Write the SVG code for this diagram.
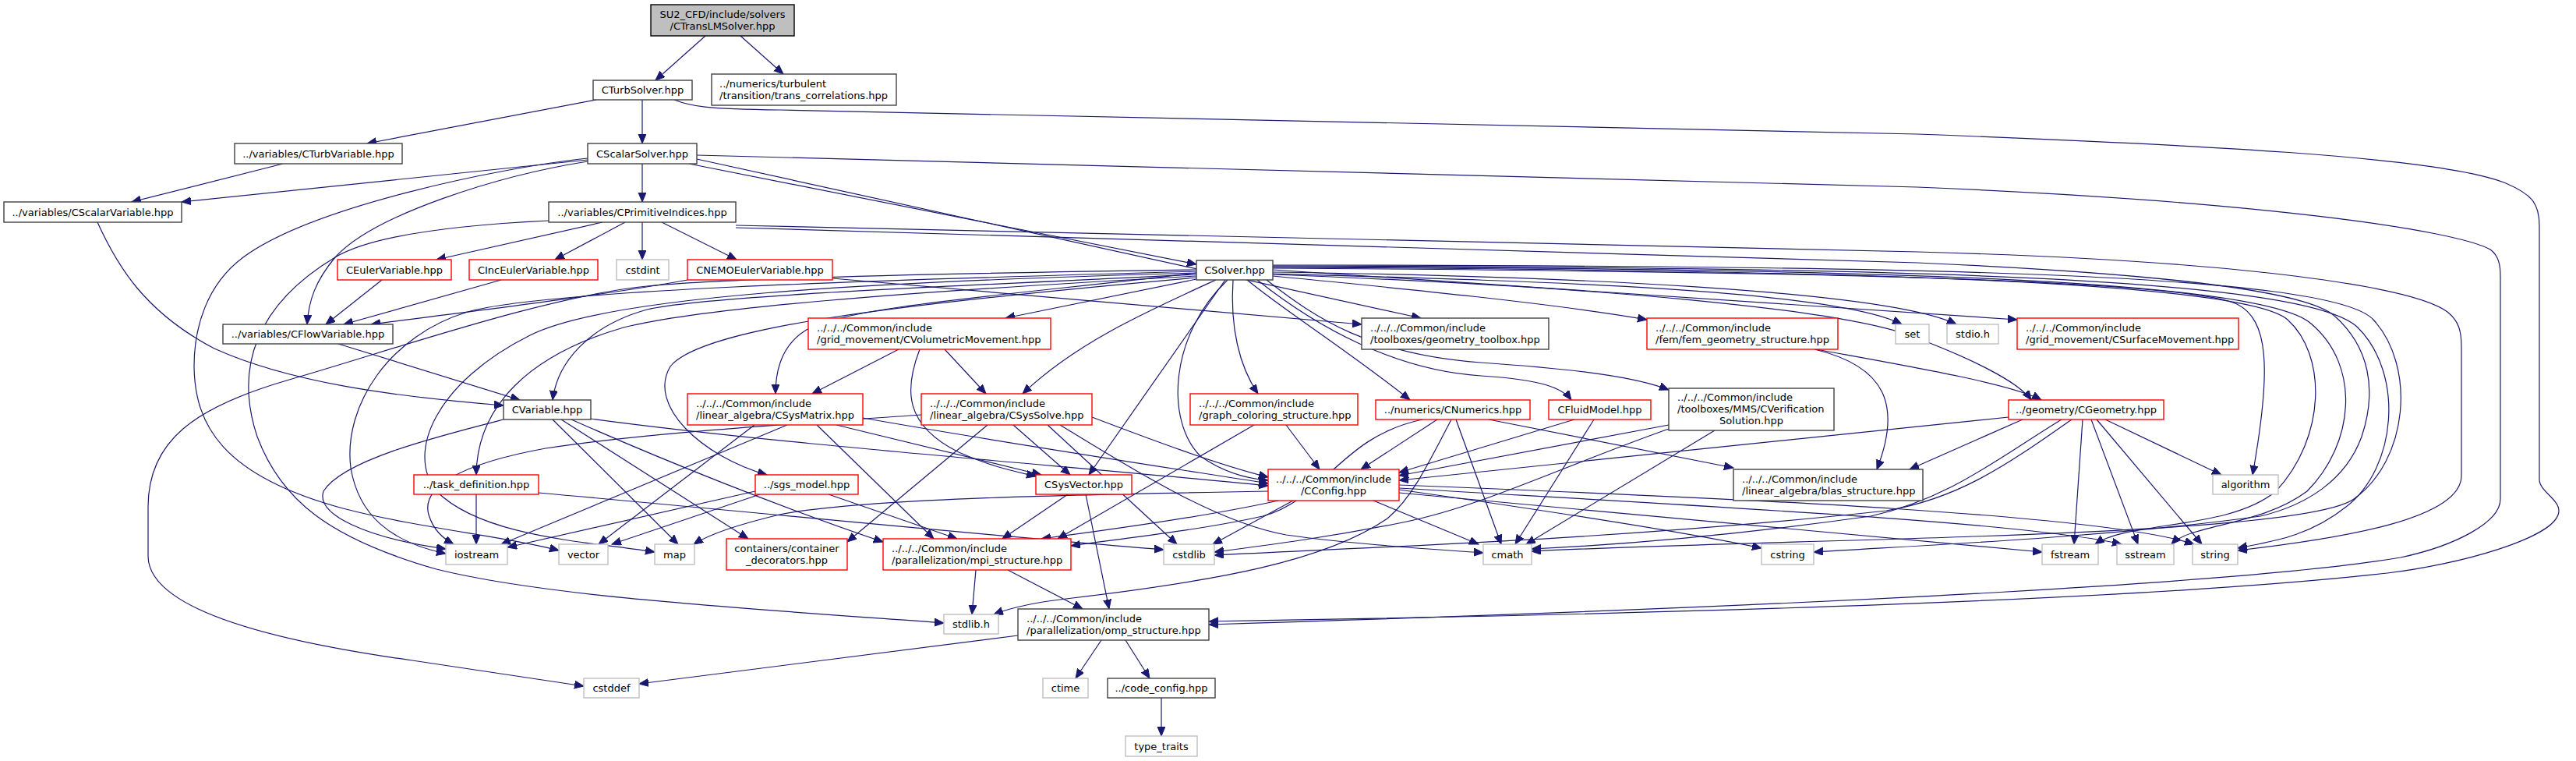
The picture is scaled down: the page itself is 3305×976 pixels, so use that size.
<svg xmlns="http://www.w3.org/2000/svg" width="3305" height="976" viewBox="0 0 3305 976">
<style>
.node rect{fill:#fff;stroke-width:1.4}
.blk{stroke:#404040}
.red{stroke:#ff0000}
.gry{stroke:#bfbfbf}
text{font-family:"DejaVu Sans",sans-serif;font-size:13px;fill:#000}
.c{text-anchor:middle}
#edges path{fill:none;stroke:#191970;stroke-width:1.2;marker-end:url(#ah)}
</style>
<defs>
<marker id="ah" markerUnits="userSpaceOnUse" markerWidth="13" markerHeight="11" refX="12" refY="5" orient="auto"><path d="M0,0 L12,5 L0,10 Z" fill="#191970" stroke="#191970" stroke-width="1"/></marker>
</defs>
<rect x="0" y="0" width="3305" height="976" fill="#fff"/>
<g id="edges">
<path d="M905,46 L841,103"/>
<path d="M950,46 L1005,95"/>
<path d="M765,128 L471,184"/>
<path d="M824,128 L824,184"/>
<path d="M865,128 C885,136 905,140 1000,141 L2460,172 C2800,185 3130,200 3215,235 C3250,250 3258,262 3258,290 L3258,615 C3258,630 3283,640 3283,655 C3283,690 3150,725 3063,735 C2800,765 2300,785 1551,797"/>
<path d="M363,210 L169,259"/>
<path d="M754,205 L233,259"/>
<path d="M824,210 L824,259"/>
<path d="M884,210 L1535,339"/>
<path d="M894,204 L1823,408"/>
<path d="M754,207 C640,225 480,275 430,330 C405,360 396,385 394,416"/>
<path d="M754,203 C640,215 400,265 312,330 C265,365 249,420 249,470 C250,545 285,610 440,652 C540,678 650,688 717,706"/>
<path d="M894,199 L2460,240 C2900,258 3150,295 3195,320 C3206,328 3208,340 3208,355 L3208,640 C3208,670 3150,700 3080,715 C2900,745 2400,775 1551,801"/>
<path d="M125,285 C150,340 185,400 275,447 C370,490 500,508 646,520"/>
<path d="M773,285 L560,333"/>
<path d="M802,285 L712,333"/>
<path d="M824,285 L824,333"/>
<path d="M849,285 L945,333"/>
<path d="M944,289 L2460,323 C2900,335 3100,370 3140,400 C3155,412 3158,425 3158,445 L3158,610 C3158,665 3010,690 2871,706"/>
<path d="M944,292 L2460,337 C2800,352 2960,375 2995,405 C3040,445 3050,500 3030,560 C3010,615 2960,648 2900,662 C2700,690 2450,700 2327,708"/>
<path d="M704,283 C600,288 480,300 430,330 C330,390 300,470 330,560 C360,640 420,690 560,730 C700,765 950,780 1211,799"/>
<path d="M490,359 L418,416"/>
<path d="M643,359 L441,416"/>
<path d="M882,359 C780,378 600,400 476,416"/>
<path d="M1068,357 L1747,416"/>
<path d="M434,441 L667,513"/>
<path d="M1535,358 L1290,408"/>
<path d="M1535,350 C1300,378 1100,392 1040,420 C1005,438 995,470 995,505"/>
<path d="M1560,359 C1470,400 1380,440 1312,505"/>
<path d="M1582,359 C1578,420 1590,470 1614,505"/>
<path d="M1600,359 C1650,400 1730,450 1809,513"/>
<path d="M1613,359 C1690,420 1790,475 1900,482 C1980,487 2005,498 2016,513"/>
<path d="M1625,359 C1690,410 1760,455 1900,465 C2030,474 2100,484 2141,500"/>
<path d="M1633,354 C1800,370 2000,390 2113,410"/>
<path d="M1633,351 C1950,360 2350,370 2440,416"/>
<path d="M1633,349 C2000,354 2420,372 2510,416"/>
<path d="M1633,346 L2588,410"/>
<path d="M1633,352 C2050,368 2350,395 2450,430 C2530,460 2590,490 2606,513"/>
<path d="M2330,448 C2450,470 2580,492 2619,513"/>
<path d="M1535,352 C1200,368 900,380 830,397 C755,418 715,465 709,513"/>
<path d="M1535,354 C1150,375 900,395 800,420 C680,455 612,520 611,609"/>
<path d="M1535,356 C1150,390 900,420 860,470 C830,520 900,585 984,609"/>
<path d="M1572,359 L1397,609"/>
<path d="M1575,359 C1500,430 1495,540 1540,585 C1570,606 1600,614 1627,616"/>
<path d="M1633,344 C2300,348 2800,358 2870,390 C2910,410 2915,470 2890,609"/>
<path d="M1633,343 C2400,346 2880,362 2935,410 C2985,455 2985,560 2920,630 C2860,680 2730,668 2688,698"/>
<path d="M1633,342 C2400,344 2900,358 2965,415 C3030,470 3020,570 2960,630 C2900,675 2810,672 2786,698"/>
<path d="M1633,341 C2450,342 2960,356 3025,420 C3085,480 3075,600 3010,650 C2960,690 2910,695 2871,703"/>
<path d="M1535,348 C1100,360 700,372 600,400 C500,430 440,520 450,600 C460,660 500,695 572,710"/>
<path d="M1535,350 C1100,362 780,380 680,430 C560,490 520,580 560,630 C620,690 760,695 840,708"/>
<path d="M1535,346 C1100,352 900,360 830,367 C700,380 500,450 371,487 C250,522 190,565 190,650 L190,713 C190,770 300,815 529,847 C620,860 700,872 749,880"/>
<path d="M1633,340 C2450,340 2990,350 3045,410 C3100,470 3090,590 3020,640 C2950,690 2300,690 1965,707"/>
<path d="M1153,448 L1042,505"/>
<path d="M1212,448 L1265,505"/>
<path d="M1180,448 C1160,500 1160,545 1230,580 C1270,598 1300,604 1329,611"/>
<path d="M968,545 L768,698"/>
<path d="M1073,545 L1336,609"/>
<path d="M1048,545 L1198,691"/>
<path d="M1107,536 C1300,570 1500,600 1627,620"/>
<path d="M1010,545 L643,698"/>
<path d="M1300,545 L1373,609"/>
<path d="M1182,532 C1000,545 830,555 700,575 C590,595 540,625 550,660 C556,680 568,690 582,698"/>
<path d="M1267,545 L1087,695"/>
<path d="M1344,545 L1510,698"/>
<path d="M1401,535 C1480,565 1560,595 1627,612"/>
<path d="M1360,545 C1450,600 1560,670 1650,686 C1750,700 1850,705 1903,709"/>
<path d="M1650,545 L1693,602"/>
<path d="M1609,545 L1357,691"/>
<path d="M1844,538 L1746,602"/>
<path d="M1862,538 C1830,600 1810,640 1780,665 C1700,720 1560,745 1376,767 C1330,772 1300,778 1275,788"/>
<path d="M1868,538 L1926,698"/>
<path d="M1910,538 L2224,600"/>
<path d="M1825,538 C1720,560 1700,640 1620,662 C1540,680 1430,692 1374,700"/>
<path d="M2020,538 L1795,606"/>
<path d="M2045,538 L1944,698"/>
<path d="M2141,545 L1795,610"/>
<path d="M2200,552 L1958,698"/>
<path d="M2141,550 C2000,600 1900,650 1800,670 C1700,690 1620,700 1558,708"/>
<path d="M2577,535 L1795,616"/>
<path d="M2595,538 L2450,602"/>
<path d="M2701,538 L2850,609"/>
<path d="M2672,538 L2661,698"/>
<path d="M2683,538 L2743,698"/>
<path d="M2690,538 L2825,698"/>
<path d="M2645,538 C2560,590 2500,640 2400,662 C2200,690 2050,700 1965,704"/>
<path d="M2658,538 C2570,600 2510,640 2420,655 C2100,690 1800,700 1558,712"/>
<path d="M2328,448 C2420,470 2440,520 2408,602"/>
<path d="M646,538 C560,560 440,590 415,630 C405,660 470,690 572,704"/>
<path d="M709,538 L870,698"/>
<path d="M720,538 L960,691"/>
<path d="M733,538 C850,590 1000,650 1133,695"/>
<path d="M758,537 C1000,570 1400,600 1627,623"/>
<path d="M611,634 L611,698"/>
<path d="M691,632 C1000,660 1300,690 1493,705"/>
<path d="M1063,634 L1228,691"/>
<path d="M969,630 L651,702"/>
<path d="M975,634 L785,698"/>
<path d="M1370,634 L1286,691"/>
<path d="M1393,634 L1423,781"/>
<path d="M1640,642 C1560,660 1420,680 1336,691"/>
<path d="M1659,642 L1556,698"/>
<path d="M1762,642 L1897,698"/>
<path d="M1795,628 C1950,650 2150,680 2260,703"/>
<path d="M1795,632 C2100,660 2400,690 2620,708"/>
<path d="M1795,626 C2200,650 2600,670 2722,698"/>
<path d="M1795,622 C2250,640 2700,660 2815,698"/>
<path d="M1627,630 C1350,635 1100,640 1000,660 C950,672 910,685 890,698"/>
<path d="M1252,731 L1247,788"/>
<path d="M1293,731 L1389,781"/>
<path d="M1413,821 L1380,870"/>
<path d="M1444,821 L1475,870"/>
<path d="M1306,815 L820,877"/>
<path d="M1490,895 L1490,944"/>
</g>
<g id="n0" class="node"><rect x="835" y="6" width="184" height="40" style="fill:#bfbfbf;stroke:#000"/><text class="c" x="927" y="23">SU2_CFD/include/solvers</text><text class="c" x="927" y="37.5">/CTransLMSolver.hpp</text></g>
<g id="n1" class="node"><rect class="blk" x="761" y="103" width="127" height="25"/><text class="c" x="824.5" y="120">CTurbSolver.hpp</text></g>
<g id="n2" class="node"><rect class="blk" x="913" y="95" width="237" height="40"/><text x="923" y="112">../numerics/turbulent</text><text x="923" y="126.5">/transition/trans_correlations.hpp</text></g>
<g id="n3" class="node"><rect class="blk" x="301" y="184" width="215" height="26"/><text class="c" x="408.5" y="201.5">../variables/CTurbVariable.hpp</text></g>
<g id="n4" class="node"><rect class="blk" x="754" y="184" width="140" height="26"/><text class="c" x="824" y="201.5">CScalarSolver.hpp</text></g>
<g id="n5" class="node"><rect class="blk" x="5" y="259" width="228" height="26"/><text class="c" x="119" y="276.5">../variables/CScalarVariable.hpp</text></g>
<g id="n6" class="node"><rect class="blk" x="704" y="259" width="240" height="26"/><text class="c" x="824" y="276.5">../variables/CPrimitiveIndices.hpp</text></g>
<g id="n7" class="node"><rect class="red" x="433" y="333" width="146" height="26"/><text class="c" x="506" y="350.5">CEulerVariable.hpp</text></g>
<g id="n8" class="node"><rect class="red" x="602" y="333" width="165" height="26"/><text class="c" x="684.5" y="350.5">CIncEulerVariable.hpp</text></g>
<g id="n9" class="node"><rect class="gry" x="791" y="333" width="67" height="26"/><text class="c" x="824.5" y="350.5">cstdint</text></g>
<g id="n10" class="node"><rect class="red" x="882" y="333" width="186" height="26"/><text class="c" x="975" y="350.5">CNEMOEulerVariable.hpp</text></g>
<g id="n11" class="node"><rect class="blk" x="1535" y="334" width="98" height="25"/><text class="c" x="1584" y="351">CSolver.hpp</text></g>
<g id="n12" class="node"><rect class="blk" x="286" y="416" width="218" height="25"/><text class="c" x="395" y="433">../variables/CFlowVariable.hpp</text></g>
<g id="n13" class="node"><rect class="red" x="1037" y="408" width="311" height="40"/><text x="1048" y="425">../../../Common/include</text><text x="1048" y="439.5">/grid_movement/CVolumetricMovement.hpp</text></g>
<g id="n14" class="node"><rect class="blk" x="1747" y="408" width="240" height="40"/><text x="1758" y="425">../../../Common/include</text><text x="1758" y="439.5">/toolboxes/geometry_toolbox.hpp</text></g>
<g id="n15" class="node"><rect class="red" x="2113" y="408" width="245" height="40"/><text x="2124" y="425">../../../Common/include</text><text x="2124" y="439.5">/fem/fem_geometry_structure.hpp</text></g>
<g id="n16" class="node"><rect class="gry" x="2432" y="416" width="43" height="25"/><text class="c" x="2453.5" y="433">set</text></g>
<g id="n17" class="node"><rect class="gry" x="2498" y="416" width="66" height="25"/><text class="c" x="2531" y="433">stdio.h</text></g>
<g id="n18" class="node"><rect class="red" x="2588" y="408" width="284" height="40"/><text x="2599" y="425">../../../Common/include</text><text x="2599" y="439.5">/grid_movement/CSurfaceMovement.hpp</text></g>
<g id="n19" class="node"><rect class="blk" x="646" y="513" width="112" height="25"/><text class="c" x="702" y="530">CVariable.hpp</text></g>
<g id="n20" class="node"><rect class="red" x="882" y="505" width="225" height="40"/><text x="893" y="522">../../../Common/include</text><text x="893" y="536.5">/linear_algebra/CSysMatrix.hpp</text></g>
<g id="n21" class="node"><rect class="red" x="1182" y="505" width="219" height="40"/><text x="1193" y="522">../../../Common/include</text><text x="1193" y="536.5">/linear_algebra/CSysSolve.hpp</text></g>
<g id="n22" class="node"><rect class="red" x="1527" y="505" width="215" height="40"/><text x="1538" y="522">../../../Common/include</text><text x="1538" y="536.5">/graph_coloring_structure.hpp</text></g>
<g id="n23" class="node"><rect class="red" x="1765" y="513" width="198" height="25"/><text class="c" x="1864" y="530">../numerics/CNumerics.hpp</text></g>
<g id="n24" class="node"><rect class="red" x="1987" y="513" width="131" height="25"/><text class="c" x="2052.5" y="530">CFluidModel.hpp</text></g>
<g id="n25" class="node"><rect class="blk" x="2141" y="498" width="212" height="54"/><text x="2152" y="514">../../../Common/include</text><text x="2152" y="529">/toolboxes/MMS/CVerification</text><text class="c" x="2247" y="543.5">Solution.hpp</text></g>
<g id="n26" class="node"><rect class="red" x="2577" y="513" width="199" height="25"/><text class="c" x="2676.5" y="530">../geometry/CGeometry.hpp</text></g>
<g id="n27" class="node"><rect class="red" x="531" y="609" width="160" height="25"/><text class="c" x="611" y="626">../task_definition.hpp</text></g>
<g id="n28" class="node"><rect class="red" x="969" y="609" width="132" height="25"/><text class="c" x="1035" y="626">../sgs_model.hpp</text></g>
<g id="n29" class="node"><rect class="red" x="1329" y="609" width="123" height="25"/><text class="c" x="1390.5" y="626">CSysVector.hpp</text></g>
<g id="n30" class="node"><rect class="red" x="1627" y="602" width="168" height="40"/><text class="c" x="1711" y="619">../../../Common/include</text><text class="c" x="1711" y="633.5">/CConfig.hpp</text></g>
<g id="n31" class="node"><rect class="blk" x="2224" y="602" width="243" height="40"/><text x="2235" y="619">../../../Common/include</text><text x="2235" y="633.5">/linear_algebra/blas_structure.hpp</text></g>
<g id="n32" class="node"><rect class="gry" x="2839" y="609" width="84" height="25"/><text class="c" x="2881" y="626">algorithm</text></g>
<g id="n33" class="node"><rect class="gry" x="572" y="698" width="79" height="26"/><text class="c" x="611.5" y="715.5">iostream</text></g>
<g id="n34" class="node"><rect class="gry" x="717" y="698" width="63" height="26"/><text class="c" x="748.5" y="715.5">vector</text></g>
<g id="n35" class="node"><rect class="gry" x="840" y="698" width="51" height="26"/><text class="c" x="865.5" y="715.5">map</text></g>
<g id="n36" class="node"><rect class="red" x="932" y="691" width="155" height="40"/><text class="c" x="1009.5" y="708">containers/container</text><text class="c" x="1009.5" y="722.5">_decorators.hpp</text></g>
<g id="n37" class="node"><rect class="red" x="1133" y="691" width="241" height="40"/><text x="1144" y="708">../../../Common/include</text><text x="1144" y="722.5">/parallelization/mpi_structure.hpp</text></g>
<g id="n38" class="node"><rect class="gry" x="1493" y="698" width="65" height="26"/><text class="c" x="1525.5" y="715.5">cstdlib</text></g>
<g id="n39" class="node"><rect class="gry" x="1903" y="698" width="62" height="26"/><text class="c" x="1934" y="715.5">cmath</text></g>
<g id="n40" class="node"><rect class="gry" x="2260" y="698" width="67" height="26"/><text class="c" x="2293.5" y="715.5">cstring</text></g>
<g id="n41" class="node"><rect class="gry" x="2620" y="698" width="72" height="26"/><text class="c" x="2656" y="715.5">fstream</text></g>
<g id="n42" class="node"><rect class="gry" x="2716" y="698" width="73" height="26"/><text class="c" x="2752.5" y="715.5">sstream</text></g>
<g id="n43" class="node"><rect class="gry" x="2813" y="698" width="58" height="26"/><text class="c" x="2842" y="715.5">string</text></g>
<g id="n44" class="node"><rect class="gry" x="1211" y="788" width="70" height="25"/><text class="c" x="1246" y="805">stdlib.h</text></g>
<g id="n45" class="node"><rect class="blk" x="1306" y="781" width="245" height="40"/><text x="1317" y="798">../../../Common/include</text><text x="1317" y="812.5">/parallelization/omp_structure.hpp</text></g>
<g id="n46" class="node"><rect class="gry" x="749" y="870" width="71" height="25"/><text class="c" x="784.5" y="887">cstddef</text></g>
<g id="n47" class="node"><rect class="gry" x="1338" y="870" width="58" height="25"/><text class="c" x="1367" y="887">ctime</text></g>
<g id="n48" class="node"><rect class="blk" x="1421" y="870" width="138" height="25"/><text class="c" x="1490" y="887">../code_config.hpp</text></g>
<g id="n49" class="node"><rect class="gry" x="1444" y="944" width="92" height="26"/><text class="c" x="1490" y="961.5">type_traits</text></g>
</svg>
